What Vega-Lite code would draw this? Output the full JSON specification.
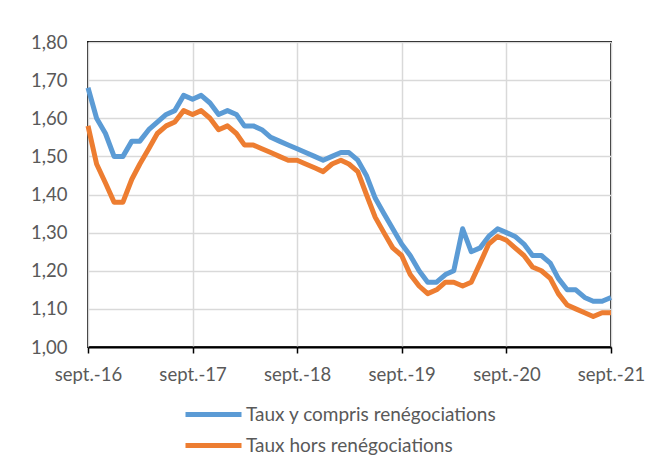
{
  "$schema": "https://vega.github.io/schema/vega-lite/v6.json",
  "autosize": "none",
  "width": 523,
  "height": 305,
  "padding": {"left": 88, "top": 42, "right": 46, "bottom": 121},
  "background": "white",
  "config": {
    "font": "Lato",
    "view": {"stroke": "#000000", "strokeWidth": 1.8},
    "axis": {"labelFont": "Lato", "labelFontSize": 18.5, "labelColor": "#595959", "gridColor": "#D9D9D9", "gridWidth": 1.5, "title": null}
  },
  "data": {
    "values": [
      {"d":"2016-09-01","a":1.68,"b":1.58},
      {"d":"2016-10-01","a":1.60,"b":1.48},
      {"d":"2016-11-01","a":1.56,"b":1.43},
      {"d":"2016-12-01","a":1.50,"b":1.38},
      {"d":"2017-01-01","a":1.50,"b":1.38},
      {"d":"2017-02-01","a":1.54,"b":1.44},
      {"d":"2017-03-01","a":1.54,"b":1.48},
      {"d":"2017-04-01","a":1.57,"b":1.52},
      {"d":"2017-05-01","a":1.59,"b":1.56},
      {"d":"2017-06-01","a":1.61,"b":1.58},
      {"d":"2017-07-01","a":1.62,"b":1.59},
      {"d":"2017-08-01","a":1.66,"b":1.62},
      {"d":"2017-09-01","a":1.65,"b":1.61},
      {"d":"2017-10-01","a":1.66,"b":1.62},
      {"d":"2017-11-01","a":1.64,"b":1.60},
      {"d":"2017-12-01","a":1.61,"b":1.57},
      {"d":"2018-01-01","a":1.62,"b":1.58},
      {"d":"2018-02-01","a":1.61,"b":1.56},
      {"d":"2018-03-01","a":1.58,"b":1.53},
      {"d":"2018-04-01","a":1.58,"b":1.53},
      {"d":"2018-05-01","a":1.57,"b":1.52},
      {"d":"2018-06-01","a":1.55,"b":1.51},
      {"d":"2018-07-01","a":1.54,"b":1.50},
      {"d":"2018-08-01","a":1.53,"b":1.49},
      {"d":"2018-09-01","a":1.52,"b":1.49},
      {"d":"2018-10-01","a":1.51,"b":1.48},
      {"d":"2018-11-01","a":1.50,"b":1.47},
      {"d":"2018-12-01","a":1.49,"b":1.46},
      {"d":"2019-01-01","a":1.50,"b":1.48},
      {"d":"2019-02-01","a":1.51,"b":1.49},
      {"d":"2019-03-01","a":1.51,"b":1.48},
      {"d":"2019-04-01","a":1.49,"b":1.46},
      {"d":"2019-05-01","a":1.45,"b":1.40},
      {"d":"2019-06-01","a":1.39,"b":1.34},
      {"d":"2019-07-01","a":1.35,"b":1.30},
      {"d":"2019-08-01","a":1.31,"b":1.26},
      {"d":"2019-09-01","a":1.27,"b":1.24},
      {"d":"2019-10-01","a":1.24,"b":1.19},
      {"d":"2019-11-01","a":1.20,"b":1.16},
      {"d":"2019-12-01","a":1.17,"b":1.14},
      {"d":"2020-01-01","a":1.17,"b":1.15},
      {"d":"2020-02-01","a":1.19,"b":1.17},
      {"d":"2020-03-01","a":1.20,"b":1.17},
      {"d":"2020-04-01","a":1.31,"b":1.16},
      {"d":"2020-05-01","a":1.25,"b":1.17},
      {"d":"2020-06-01","a":1.26,"b":1.22},
      {"d":"2020-07-01","a":1.29,"b":1.27},
      {"d":"2020-08-01","a":1.31,"b":1.29},
      {"d":"2020-09-01","a":1.30,"b":1.28},
      {"d":"2020-10-01","a":1.29,"b":1.26},
      {"d":"2020-11-01","a":1.27,"b":1.24},
      {"d":"2020-12-01","a":1.24,"b":1.21},
      {"d":"2021-01-01","a":1.24,"b":1.20},
      {"d":"2021-02-01","a":1.22,"b":1.18},
      {"d":"2021-03-01","a":1.18,"b":1.14},
      {"d":"2021-04-01","a":1.15,"b":1.11},
      {"d":"2021-05-01","a":1.15,"b":1.10},
      {"d":"2021-06-01","a":1.13,"b":1.09},
      {"d":"2021-07-01","a":1.12,"b":1.08},
      {"d":"2021-08-01","a":1.12,"b":1.09},
      {"d":"2021-09-01","a":1.13,"b":1.09}
    ]
  },
  "transform": [
    {"fold": ["a", "b"], "as": ["k", "v"]},
    {"lookup": "k", "from": {"data": {"values": [{"k": "a", "serie": "Taux y compris renégociations"}, {"k": "b", "serie": "Taux hors renégociations"}]}, "key": "k", "fields": ["serie"]}}
  ],
  "mark": {"type": "line", "strokeWidth": 5, "strokeJoin": "round", "strokeCap": "butt"},
  "encoding": {
    "x": {
      "field": "d", "type": "temporal",
      "scale": {"type": "utc", "domain": [{"year": 2016, "month": 9, "date": 1, "utc": true}, {"year": 2021, "month": 9, "date": 1, "utc": true}]},
      "axis": {
        "values": [
          {"year": 2016, "month": 9, "date": 1, "utc": true},
          {"year": 2017, "month": 9, "date": 1, "utc": true},
          {"year": 2018, "month": 9, "date": 1, "utc": true},
          {"year": 2019, "month": 9, "date": 1, "utc": true},
          {"year": 2020, "month": 9, "date": 1, "utc": true},
          {"year": 2021, "month": 9, "date": 1, "utc": true}
        ],
        "labelExpr": "'sept.-' + utcFormat(datum.value, '%y')",
        "domain": true, "domainColor": "#000000", "domainWidth": 1.8,
        "ticks": true, "tickColor": "#000000", "tickSize": 6, "tickWidth": 1.5,
        "labelPadding": 12, "labelFlush": false, "labelOverlap": false
      }
    },
    "y": {
      "field": "v", "type": "quantitative",
      "scale": {"domain": [1.0, 1.8], "nice": false, "zero": false},
      "axis": {
        "values": [1.0, 1.1, 1.2, 1.3, 1.4, 1.5, 1.6, 1.7, 1.8],
        "labelExpr": "replace(format(datum.value, '.2f'), '.', ',')",
        "domain": false, "ticks": false, "labelPadding": 21
      }
    },
    "color": {
      "field": "serie", "type": "nominal",
      "scale": {"domain": ["Taux y compris renégociations", "Taux hors renégociations"], "range": ["#5B9BD5", "#ED7D31"]},
      "legend": {
        "title": null, "orient": "none", "legendX": 116, "legendY": 363,
        "direction": "vertical", "symbolType": "M-4,0H4", "symbolSize": 196, "symbolStrokeWidth": 5,
        "symbolStrokeCap": "round",
        "labelFont": "Lato", "labelFontSize": 19, "labelColor": "#595959", "labelOffset": 23, "labelLimit": 400,
        "rowPadding": 10
      }
    }
  }
}
